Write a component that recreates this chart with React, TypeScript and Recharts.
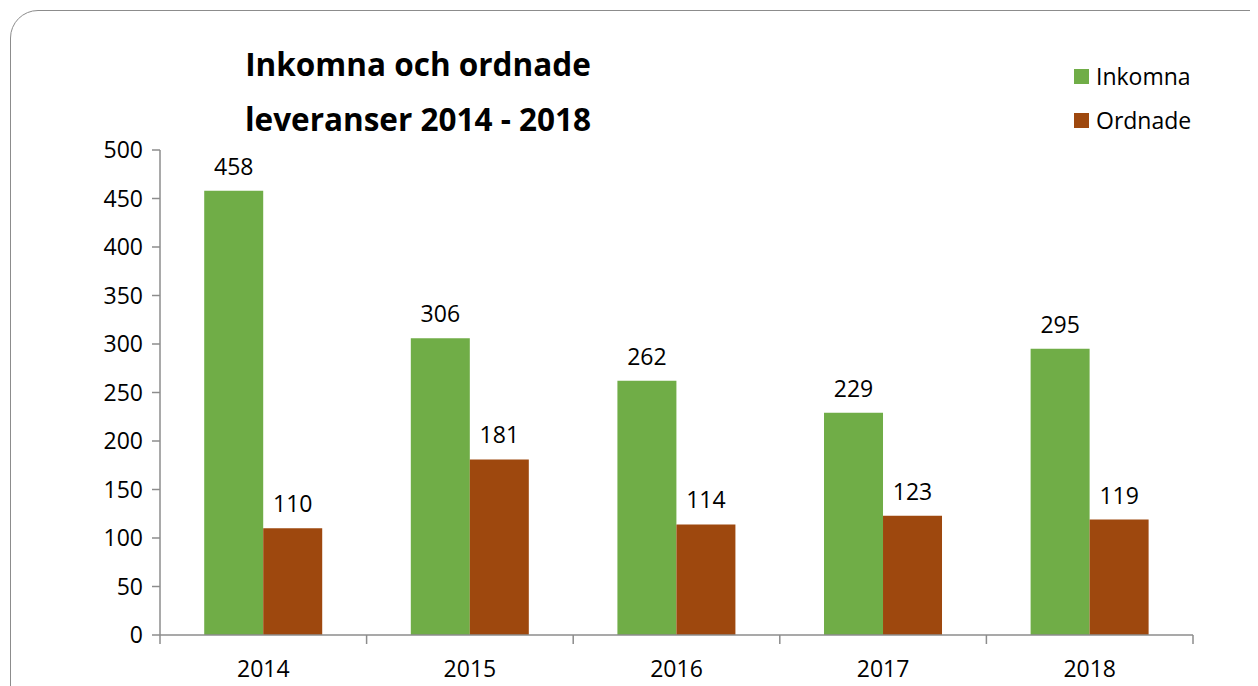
import { BarChart, Bar, XAxis, YAxis, LabelList } from "recharts";

const years = ["2014", "2015", "2016", "2017", "2018"];
const inkomna = [458, 306, 262, 229, 295];
const ordnade = [110, 181, 114, 123, 119];
const yTicks = [0, 50, 100, 150, 200, 250, 300, 350, 400, 450, 500];

const data = years.map((year, i) => ({
  year,
  Inkomna: inkomna[i],
  Ordnade: ordnade[i],
}));

const series = [
  { key: "Inkomna", color: "#70ad47" },
  { key: "Ordnade", color: "#9e480e" },
];

const font = "'Open Sans', sans-serif";
const axisColor = "#8c8c8c";

const XTick = ({ x, y, payload, index, width, visibleTicksCount }: any) => {
  const half = width / visibleTicksCount / 2;
  return (
    <g>
      <line x1={x - half} y1={y - 8} x2={x - half} y2={y + 1} stroke={axisColor} strokeWidth={1.5} />
      {index === visibleTicksCount - 1 && (
        <line x1={x + half} y1={y - 8} x2={x + half} y2={y + 1} stroke={axisColor} strokeWidth={1.5} />
      )}
      <text x={x} y={y + 34} textAnchor="middle" fontSize={23} fill="#000" fontFamily={font}>
        {payload.value}
      </text>
    </g>
  );
};

export default function App() {
  return (
    <div style={{ position: "relative", width: 1250, height: 678, overflow: "hidden", background: "#fff" }}>
      <div
        style={{
          position: "absolute",
          left: 2,
          top: 2,
          width: 1300,
          height: 730,
          border: "1.5px solid #8c8c8c",
          borderRadius: 28,
        }}
      />
      <div
        style={{
          position: "absolute",
          left: 210,
          top: 28,
          width: 400,
          textAlign: "center",
          fontFamily: font,
          fontWeight: "bold",
          fontSize: 31.5,
          lineHeight: "55px",
          color: "#000",
        }}
      >
        Inkomna och ordnade
        <br />
        leveranser 2014 - 2018
      </div>
      <div style={{ position: "absolute", left: 1066, top: 46, fontFamily: font, fontSize: 23, color: "#000" }}>
        {series.map((s) => (
          <div key={s.key} style={{ display: "flex", alignItems: "center", height: 44 }}>
            <span style={{ width: 15, height: 15, background: s.color, marginRight: 7 }} />
            {s.key}
          </div>
        ))}
      </div>
      <BarChart
        width={1250}
        height={678}
        data={data}
        margin={{ top: 142, right: 65, left: 92, bottom: 11 }}
        barCategoryGap="21.4%"
        barGap={0}
        style={{ position: "absolute", left: 0, top: 0 }}
      >
        <XAxis
          dataKey="year"
          height={40}
          axisLine={{ stroke: axisColor, strokeWidth: 1.5 }}
          tickLine={false}
          tick={<XTick />}
          interval={0}
        />
        <YAxis
          width={60}
          domain={[0, 500]}
          ticks={yTicks}
          interval={0}
          axisLine={{ stroke: axisColor, strokeWidth: 1.5 }}
          tickLine={{ stroke: axisColor, strokeWidth: 1.5 }}
          tickSize={8}
          tickMargin={9}
          tick={{ fontSize: 23, fill: "#000", fontFamily: font }}
        />
        {series.map((s) => (
          <Bar key={s.key} dataKey={s.key} fill={s.color} isAnimationActive={false}>
            <LabelList dataKey={s.key} position="top" offset={16} fontSize={23} fill="#000" fontFamily={font} />
          </Bar>
        ))}
      </BarChart>
    </div>
  );
}
